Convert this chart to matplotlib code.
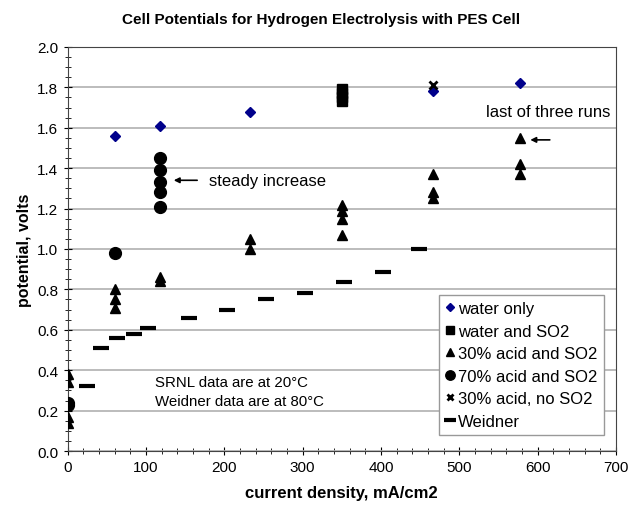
import numpy as np
import matplotlib
matplotlib.use("Agg")
import matplotlib.pyplot as plt
from matplotlib.ticker import MultipleLocator

plt.rcParams['font.family'] = ['Liberation Sans', 'DejaVu Sans']

# water only
water_x = [60, 118, 233, 466, 577]
water_y = [1.56, 1.61, 1.68, 1.78, 1.82]

# water and SO2
wso2_x = [350, 350, 350, 350]
wso2_y = [1.73, 1.75, 1.77, 1.79]

# 30% acid and SO2
a30_x = [0, 0, 0, 0, 60, 60, 60, 118, 118, 233, 233, 350, 350, 350, 350, 466, 466, 466, 577, 577, 577]
a30_y = [0.38, 0.34, 0.17, 0.14, 0.80, 0.75, 0.71, 0.86, 0.84, 1.05, 1.00,
         1.22, 1.19, 1.15, 1.07, 1.37, 1.28, 1.25, 1.55, 1.42, 1.37]

# 70% acid and SO2
a70_x = [0, 0, 60, 118, 118, 118, 118, 118]
a70_y = [0.24, 0.23, 0.98, 1.45, 1.39, 1.33, 1.28, 1.21]

# 30% acid, no SO2
noso2_x = [466]
noso2_y = [1.81]

# Weidner
weid_x = [25, 43, 63, 85, 103, 155, 204, 253, 303, 353, 402, 449]
weid_y = [0.32, 0.51, 0.56, 0.58, 0.61, 0.66, 0.70, 0.75, 0.78, 0.835, 0.885, 1.00]

fig = plt.figure(figsize=(6.28, 5.10), dpi=100)
ax = fig.add_axes([0.1075, 0.1137, 0.8735, 0.7923])

ax.plot(water_x, water_y, 'D', color='#00008B', ms=5, ls='none', label='water only', zorder=3)
ax.plot(wso2_x, wso2_y, 's', color='black', ms=7, ls='none', label='water and SO2', zorder=3)
ax.plot(a30_x, a30_y, '^', color='black', ms=7.5, ls='none', label='30% acid and SO2', zorder=3)
ax.plot(a70_x, a70_y, 'o', color='black', ms=8.5, ls='none', label='70% acid and SO2', zorder=3)
ax.plot(noso2_x, noso2_y, 'x', color='black', ms=6, mew=2, ls='none', label='30% acid, no SO2', zorder=3)
ax.plot(weid_x, weid_y, '_', color='black', ms=11, mew=3, ls='none', label='Weidner', zorder=3)

ax.set_xlim(0, 700)
ax.set_ylim(0, 2.0)
ax.xaxis.set_major_locator(MultipleLocator(100))
ax.xaxis.set_minor_locator(MultipleLocator(20))
ax.yaxis.set_major_locator(MultipleLocator(0.2))
ax.yaxis.set_minor_locator(MultipleLocator(0.05))
ax.yaxis.set_major_formatter(matplotlib.ticker.FormatStrFormatter('%.1f'))
ax.tick_params(which='major', direction='inout', length=6, labelsize=11)
ax.tick_params(which='minor', direction='inout', length=4)
ax.grid(axis='y', which='major', color='#b0b0b0', lw=1.2)
ax.set_axisbelow(True)
for s in ax.spines.values():
    s.set_color('#444444')

# title sits a bit left of the axes centre in the original
fig.text(0.512, 0.961, 'Cell Potentials for Hydrogen Electrolysis with PES Cell',
         fontsize=11, fontweight='bold', ha='center', va='center')
ax.set_ylabel('potential, volts', fontsize=11.5, fontweight='bold')
ax.set_xlabel('current density, mA/cm2', fontsize=12, fontweight='bold', labelpad=8)

ax.annotate('', xy=(132, 1.34), xytext=(169, 1.34),
            arrowprops=dict(arrowstyle='-|>', color='black', lw=1.2, mutation_scale=8))
ax.text(181, 1.34, 'steady increase', fontsize=12, va='center')
ax.text(534, 1.68, 'last of three runs', fontsize=12, va='center')
ax.annotate('', xy=(587, 1.54), xytext=(619, 1.54),
            arrowprops=dict(arrowstyle='-|>', color='black', lw=1.2, mutation_scale=8))
ax.text(112, 0.34, 'SRNL data are at 20°C', fontsize=10.8, va='center')
ax.text(112, 0.25, 'Weidner data are at 80°C', fontsize=10.8, va='center')

leg = ax.legend(loc='lower right', bbox_to_anchor=(0.993, 0.018), fontsize=12,
                handlelength=0.55, handletextpad=0.2, borderpad=0.4, labelspacing=0.45,
                markerscale=0.8, fancybox=False, framealpha=1, edgecolor='#999999')

fig.savefig('out.png', dpi=100)
